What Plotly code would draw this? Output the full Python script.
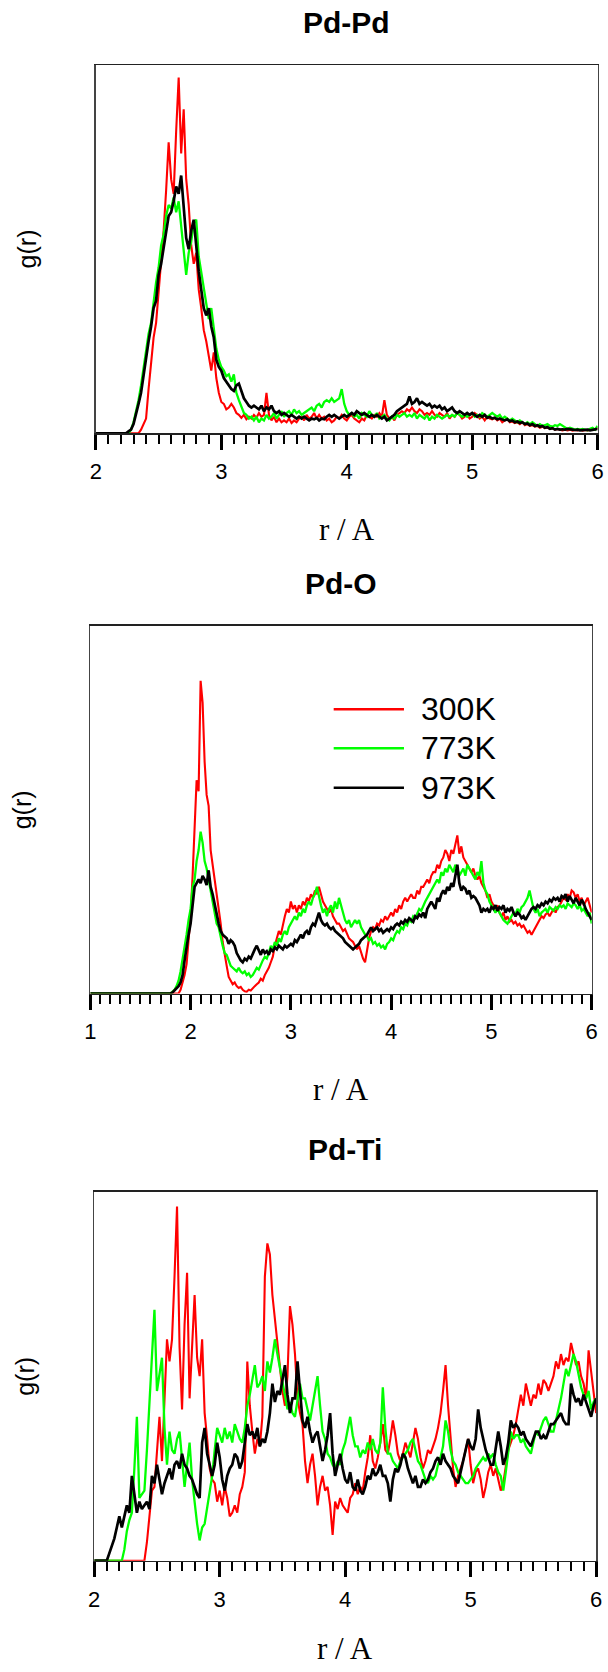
import numpy as np
import plotly.graph_objects as go

# ---------------- data (g(r), arbitrary units) ----------------
TEMPS = ["300K", "773K", "973K"]
PANEL_TITLES = ["Pd-Pd", "Pd-O", "Pd-Ti"]
R_RANGES = [(2.0, 6.0), (1.0, 6.0), (2.0, 6.0)]   # r / A, samples every 0.02 A
Y_MAX = 10.0

PDPD_300K = [
    0, 0, 0, 0, 0, 0, 0, 0, 0, 0,
    0, 0, 0, 0, 0, 0, 0, 0, 0.1, 0.25,
    0.4, 1.2, 1.9, 2.6, 3.0, 3.8, 4.8, 5.5, 6.6, 7.9,
    6.9, 6.5, 8.2, 9.66, 7.6, 8.8, 6.9, 6.2, 5.1, 4.6,
    4.9, 3.9, 3.4, 2.8, 2.5, 2.1, 1.7, 2.2, 1.5, 1.1,
    0.85, 0.8, 0.65, 0.7, 0.8, 0.7, 0.55, 0.5, 0.42, 0.5,
    0.38, 0.45, 0.4, 0.5, 0.42, 0.55, 0.45, 0.5, 1.1, 0.5,
    0.35, 0.45, 0.3, 0.4, 0.3, 0.35, 0.3, 0.4, 0.28, 0.35,
    0.3, 0.4, 0.45, 0.35, 0.5, 0.4, 0.45, 0.55, 0.4, 0.5,
    0.4, 0.45, 0.35, 0.4, 0.3, 0.35, 0.45, 0.4, 0.5, 0.4,
    0.35, 0.45, 0.5, 0.4, 0.35, 0.3, 0.4, 0.35, 0.5, 0.45,
    0.4, 0.5, 0.45, 0.55, 0.45, 0.9, 0.5, 0.4, 0.45, 0.35,
    0.5, 0.55, 0.6, 0.55, 0.65, 0.6, 0.7, 0.6, 0.55, 0.65,
    0.6, 0.5, 0.55, 0.5, 0.6, 0.5, 0.45, 0.55, 0.5, 0.45,
    0.55, 0.4, 0.5, 0.45, 0.55, 0.5, 0.4, 0.45, 0.5, 0.4,
    0.45, 0.55, 0.5, 0.4, 0.45, 0.35, 0.45, 0.4, 0.38, 0.42,
    0.35, 0.4, 0.3, 0.35, 0.4, 0.3, 0.32, 0.28, 0.3, 0.25,
    0.3, 0.22, 0.25, 0.2, 0.22, 0.18, 0.2, 0.15, 0.18, 0.14,
    0.16, 0.12, 0.14, 0.1, 0.12, 0.1, 0.08, 0.1, 0.08, 0.1,
    0.07, 0.09, 0.08, 0.1, 0.07, 0.09, 0.08, 0.1, 0.12, 0.1,
    0.14,
]
PDPD_773K = [
    0, 0, 0, 0, 0, 0, 0, 0, 0, 0,
    0, 0, 0, 0, 0.1, 0.3, 0.6, 0.9, 1.3, 1.8,
    2.3, 2.7, 3.0, 3.6, 4.1, 4.5, 5.1, 5.4, 5.9, 6.2,
    6.1, 6.4, 6.0, 6.3, 5.6, 5.0, 4.3, 4.9, 5.2, 5.7,
    5.8, 4.8, 4.4, 3.9, 3.5, 3.1, 3.4, 2.9, 2.3, 2.0,
    1.8, 1.7, 1.55, 1.6, 1.4, 1.6, 1.1, 0.9, 0.7, 0.55,
    0.5, 0.4, 0.45, 0.35, 0.45, 0.3, 0.4, 0.35, 0.5, 0.4,
    0.45, 0.55, 0.4, 0.5, 0.6, 0.45, 0.55, 0.6, 0.5, 0.65,
    0.55, 0.6, 0.5, 0.55, 0.6, 0.65, 0.7, 0.6, 0.75, 0.8,
    0.7, 0.85, 0.9, 0.85, 0.95, 0.85, 0.9, 0.95, 1.2, 0.8,
    0.6, 0.5, 0.55, 0.45, 0.5, 0.4, 0.55, 0.5, 0.45, 0.6,
    0.5, 0.45, 0.55, 0.4, 0.45, 0.5, 0.4, 0.35, 0.45, 0.4,
    0.5, 0.45, 0.5, 0.55, 0.45, 0.5, 0.45, 0.55, 0.4, 0.5,
    0.45, 0.4, 0.5, 0.35, 0.45, 0.4, 0.5, 0.45, 0.4, 0.45,
    0.5, 0.45, 0.5, 0.45, 0.55, 0.5, 0.45, 0.5, 0.45, 0.5,
    0.55, 0.45, 0.5, 0.45, 0.55, 0.5, 0.45, 0.5, 0.55, 0.5,
    0.45, 0.5, 0.4, 0.45, 0.4, 0.35, 0.4, 0.35, 0.3, 0.35,
    0.3, 0.25, 0.3, 0.25, 0.3, 0.25, 0.2, 0.25, 0.2, 0.22,
    0.25, 0.2, 0.18, 0.22, 0.2, 0.25, 0.2, 0.15, 0.12, 0.15,
    0.12, 0.1, 0.12, 0.1, 0.12, 0.1, 0.08, 0.12, 0.15, 0.1,
    0.2,
]
PDPD_973K = [
    0, 0, 0, 0, 0, 0, 0, 0, 0, 0,
    0, 0, 0, 0.05, 0.1, 0.25, 0.5, 0.8, 1.1, 1.6,
    2.1, 2.5, 2.9, 3.4, 3.6, 4.3, 4.6, 5.0, 5.5, 5.9,
    6.0, 6.3, 6.7, 6.5, 7.0, 6.2, 5.3, 5.0, 5.5, 5.8,
    5.0, 4.4, 3.9, 3.4, 3.2, 3.4, 2.9, 2.6, 2.0, 1.8,
    1.7, 1.5, 1.4, 1.3, 1.2, 1.15, 1.3, 1.35, 1.15, 0.95,
    0.85, 0.75, 0.7, 0.75, 0.7, 0.65, 0.75, 0.6, 0.7, 0.65,
    0.75, 0.6, 0.55, 0.6, 0.5, 0.55, 0.5, 0.45, 0.5, 0.45,
    0.4, 0.45, 0.4, 0.45, 0.4, 0.35, 0.4, 0.38, 0.42, 0.35,
    0.4, 0.38, 0.45, 0.5, 0.45, 0.5, 0.45, 0.4, 0.45, 0.5,
    0.45, 0.5, 0.55, 0.5, 0.6, 0.55, 0.5, 0.55, 0.5, 0.45,
    0.5, 0.45, 0.5, 0.45, 0.4, 0.45, 0.35, 0.4, 0.45, 0.5,
    0.6, 0.65, 0.7, 0.75, 0.8, 1.0, 0.8, 0.85, 0.95, 0.8,
    0.85, 0.8, 0.75, 0.8, 0.7, 0.75, 0.7, 0.75, 0.65, 0.7,
    0.6, 0.65, 0.7, 0.6, 0.55, 0.6, 0.55, 0.5, 0.55, 0.5,
    0.55, 0.5, 0.45, 0.5, 0.45, 0.5, 0.42, 0.45, 0.4, 0.42,
    0.38, 0.4, 0.38, 0.35, 0.38, 0.33, 0.35, 0.3, 0.32, 0.28,
    0.3, 0.25, 0.27, 0.22, 0.25, 0.2, 0.22, 0.18, 0.2, 0.15,
    0.17, 0.12, 0.14, 0.1, 0.12, 0.1, 0.11, 0.1, 0.12, 0.1,
    0.1, 0.09, 0.1, 0.08, 0.09, 0.08, 0.1, 0.08, 0.09, 0.1,
    0.12,
]

PDO_300K = [
    0, 0, 0, 0, 0, 0, 0, 0, 0, 0,
    0, 0, 0, 0, 0, 0, 0, 0, 0, 0,
    0, 0, 0, 0, 0, 0, 0, 0, 0, 0,
    0, 0, 0, 0, 0, 0, 0, 0, 0, 0,
    0, 0, 0, 0, 0, 0.1, 0.3, 0.5, 0.8, 1.4,
    2.1, 3.2, 4.4, 5.8, 5.5, 8.5, 7.9, 6.3, 5.4, 5.1,
    3.9, 3.5, 3.2, 2.8, 2.4, 1.9, 1.4, 1.0, 0.75, 0.45,
    0.35, 0.25, 0.3, 0.2, 0.15, 0.18, 0.1, 0.06, 0.05, 0.1,
    0.08, 0.15, 0.2, 0.25, 0.3, 0.4, 0.35, 0.5, 0.6, 0.7,
    0.85, 1.0, 1.3, 1.5, 1.7, 1.6, 1.9, 2.1, 2.3, 2.2,
    2.5, 2.3, 2.4, 2.2, 2.4, 2.3, 2.5, 2.4, 2.6, 2.5,
    2.7, 2.6, 2.8, 2.7, 2.9, 2.7, 2.5, 2.4, 2.3, 2.2,
    2.3, 2.1, 2.0, 1.9, 1.9, 1.8, 1.7, 1.75, 1.6, 1.5,
    1.45, 1.4, 1.3, 1.2, 1.3, 1.1, 0.95, 0.85, 1.2, 1.5,
    1.7, 1.8, 1.75, 1.9, 1.85, 2.0, 1.95, 2.1, 2.0, 2.1,
    2.2, 2.1, 2.3, 2.2, 2.4, 2.3, 2.5, 2.6, 2.5, 2.6,
    2.7, 2.6, 2.6, 2.8, 2.7, 2.9, 2.9, 3.0, 3.1, 3.0,
    3.2, 3.3, 3.3, 3.5, 3.4, 3.6, 3.7, 3.9, 3.8, 3.6,
    3.9, 3.8, 4.1, 4.3, 3.8, 4.0, 3.7, 3.6, 3.5, 3.4,
    3.3, 3.4, 3.2, 3.1, 3.2, 3.0, 2.9, 2.8, 2.6, 2.7,
    2.5, 2.4, 2.3, 2.4, 2.2, 2.1, 2.2, 2.0, 2.1, 1.95,
    2.0, 1.9, 1.95, 1.85, 1.9, 1.8, 1.85, 1.75, 1.65, 1.7,
    1.6, 1.7, 1.8, 1.9, 2.0, 2.1, 2.05, 2.15, 2.2, 2.1,
    2.2, 2.3, 2.2, 2.35, 2.4, 2.5, 2.6, 2.55, 2.7, 2.6,
    2.8, 2.75, 2.6, 2.7, 2.5, 2.6, 2.4, 2.5, 2.6, 2.4,
    2.2,
]
PDO_773K = [
    0, 0, 0, 0, 0, 0, 0, 0, 0, 0,
    0, 0, 0, 0, 0, 0, 0, 0, 0, 0,
    0, 0, 0, 0, 0, 0, 0, 0, 0, 0,
    0, 0, 0, 0, 0, 0, 0, 0, 0, 0,
    0, 0.05, 0.1, 0.2, 0.35, 0.6, 0.9, 1.3, 1.6, 2.0,
    2.3, 2.9, 3.1, 3.6, 3.9, 4.4, 4.1, 3.6, 3.4, 3.1,
    2.8, 2.5, 2.2, 1.9, 1.8, 1.5, 1.3, 1.1, 1.05, 0.9,
    0.75, 0.7, 0.65, 0.6, 0.7, 0.6, 0.55, 0.6, 0.5, 0.55,
    0.45, 0.5, 0.6, 0.7, 0.65, 0.8, 0.9, 1.0, 0.95, 1.1,
    1.3, 1.2, 1.4, 1.3, 1.5, 1.4, 1.6, 1.7, 1.6, 1.8,
    1.9, 2.0, 2.1, 2.0, 2.2, 2.1, 2.3, 2.2, 2.4, 2.5,
    2.4, 2.6, 2.7, 2.9, 2.6, 2.4, 2.2, 2.3, 2.1, 2.3,
    2.4, 2.2, 2.5, 2.3, 2.6, 2.4, 2.2, 2.0, 1.9, 2.0,
    1.8, 1.9, 2.0, 1.9, 2.0, 1.8, 1.7, 1.6, 1.55, 1.45,
    1.5, 1.35, 1.4, 1.3, 1.35, 1.25, 1.3, 1.2, 1.35, 1.4,
    1.5, 1.45, 1.6, 1.7, 1.65, 1.8, 1.75, 1.9, 1.85, 2.0,
    1.95, 2.1, 2.05, 2.2, 2.3, 2.25, 2.4, 2.5, 2.6, 2.7,
    2.8, 2.9, 3.0, 3.1, 3.0, 3.3, 3.2, 3.4, 3.3, 3.5,
    3.4, 3.3, 3.5, 3.4, 3.2, 3.3, 3.4, 3.2, 3.5, 3.4,
    3.3, 3.2, 3.1, 3.3, 3.2, 3.6, 3.0, 2.8, 2.7, 2.5,
    2.4, 2.3, 2.2, 2.3, 2.2, 2.1, 2.0, 1.95, 1.9, 2.0,
    2.1, 2.2, 2.15, 2.3, 2.2, 2.35, 2.4, 2.5, 2.6, 2.8,
    2.5, 2.3, 2.2, 2.3, 2.1, 2.2, 2.25, 2.3, 2.2, 2.35,
    2.3, 2.25, 2.35, 2.3, 2.4, 2.35, 2.4, 2.3, 2.45, 2.4,
    2.35, 2.45, 2.4, 2.3, 2.4, 2.25, 2.3, 2.2, 2.1, 2.2,
    1.9,
]
PDO_973K = [
    0, 0, 0, 0, 0, 0, 0, 0, 0, 0,
    0, 0, 0, 0, 0, 0, 0, 0, 0, 0,
    0, 0, 0, 0, 0, 0, 0, 0, 0, 0,
    0, 0, 0, 0, 0, 0, 0, 0, 0, 0,
    0, 0.03, 0.08, 0.15, 0.2, 0.3, 0.5, 0.9, 1.3, 1.6,
    1.9, 2.4, 2.9, 3.0, 3.1, 3.0, 3.2, 3.1, 2.95, 3.35,
    2.9, 2.7, 2.4, 2.2, 1.9, 1.7, 1.6, 1.55, 1.5, 1.35,
    1.45, 1.4, 1.3, 1.1, 1.0, 0.9, 0.85, 0.95, 0.9, 1.0,
    0.95, 1.1, 1.2, 1.3, 1.15, 1.05, 1.2, 1.1, 1.15, 1.05,
    1.2, 1.15, 1.25, 1.2, 1.3, 1.25, 1.2, 1.3, 1.25, 1.3,
    1.35, 1.3, 1.45, 1.4, 1.5, 1.6, 1.5, 1.65, 1.7, 1.6,
    1.8, 1.9, 1.85, 2.0, 2.2, 2.0, 1.9, 1.85, 1.9, 1.8,
    1.75, 1.8, 1.7, 1.65, 1.6, 1.55, 1.5, 1.4, 1.35, 1.3,
    1.25, 1.2, 1.25, 1.3, 1.35, 1.45, 1.5, 1.55, 1.6, 1.7,
    1.8, 1.7, 1.75, 1.8, 1.7, 1.75, 1.65, 1.7, 1.75, 1.7,
    1.8, 1.75, 1.85, 1.9, 1.85, 1.95, 1.9, 2.0, 1.95, 2.05,
    2.0, 1.95, 2.1, 2.05, 2.15, 2.1, 2.2, 2.05, 2.3, 2.4,
    2.5, 2.4, 2.3, 2.6, 2.5, 2.7, 2.8, 2.7, 2.9, 2.8,
    3.0, 2.9, 3.2, 3.5, 3.0, 2.8, 2.9, 2.85, 2.7, 2.8,
    2.6, 2.65, 2.6, 2.5, 2.4, 2.2, 2.3, 2.25, 2.3, 2.2,
    2.35, 2.3, 2.4, 2.25, 2.35, 2.3, 2.4, 2.2, 2.3, 2.25,
    2.35, 2.2, 2.1, 2.2, 2.15, 2.05, 2.1, 2.0, 2.1, 2.2,
    2.3, 2.35, 2.3, 2.4, 2.35, 2.45, 2.4, 2.5, 2.45, 2.55,
    2.5, 2.6, 2.55, 2.6, 2.5, 2.65, 2.6, 2.7, 2.5, 2.65,
    2.55, 2.45, 2.6, 2.5, 2.4, 2.55, 2.45, 2.3, 2.2, 2.1,
    2.0,
]

PDTI_300K = [
    0, 0, 0, 0, 0, 0, 0, 0, 0, 0,
    0, 0, 0, 0, 0, 0, 0, 0, 0, 0,
    0, 0.5, 1.3, 1.9, 2.0, 3.0, 3.9, 2.7, 4.2, 6.0,
    5.4, 6.0, 7.7, 9.6, 5.8, 4.1, 6.4, 7.8, 4.4, 5.9,
    7.2, 5.5, 5.0, 6.0, 4.0, 3.3, 2.5, 2.2, 2.1, 1.6,
    1.9, 1.5, 2.0, 1.7, 1.2, 1.3, 1.5, 1.3, 1.8, 2.0,
    2.4, 5.4, 4.2, 3.5, 2.9, 3.3, 3.1, 3.9, 7.7, 8.6,
    8.3, 7.2, 6.5, 5.8, 5.2, 4.6, 4.2, 5.0, 6.9, 6.4,
    5.6, 4.4, 4.0, 3.7, 2.7, 2.1, 2.6, 2.9, 2.3, 1.5,
    2.0, 2.3, 1.9, 2.0, 1.5, 0.7, 1.6, 1.4, 1.7, 1.5,
    1.4, 1.3, 1.7, 1.8, 2.1, 1.8, 2.0, 1.9, 2.4, 2.8,
    3.4, 2.7, 2.5, 2.8, 3.2, 3.7, 3.0, 2.9, 3.3, 3.8,
    3.4, 2.9, 2.7, 2.9, 3.2, 3.0, 2.8, 3.2, 3.6, 3.3,
    2.8, 2.5, 2.7, 3.0, 2.9, 3.1, 3.3, 3.6, 4.0, 4.6,
    5.3, 4.2, 3.3, 2.5, 2.0, 2.3, 2.5, 2.7, 3.0, 3.3,
    2.6, 2.1, 2.4, 2.5, 2.2, 1.7, 2.0, 2.4, 2.6, 2.3,
    2.5, 2.2, 1.9, 2.1, 2.6, 3.0, 3.2, 3.4, 3.7, 4.1,
    4.5, 4.2, 4.8, 4.5, 4.2, 4.5, 4.4, 4.8, 4.5, 4.9,
    4.8, 4.6, 4.8, 5.0, 5.4, 5.2, 5.6, 5.3, 5.5, 5.4,
    5.9, 5.6, 5.3, 5.4, 5.0, 4.8, 4.4, 5.7, 5.1, 4.5,
    4.0,
]
PDTI_773K = [
    0, 0, 0, 0, 0, 0, 0, 0, 0, 0,
    0, 0, 0.3, 0.8, 1.1, 1.3, 2.5, 3.9, 1.7, 1.8,
    1.9, 3.0, 4.2, 5.4, 6.8, 4.6, 5.0, 5.5, 3.6, 2.6,
    3.5, 3.0, 2.9, 3.3, 3.5, 2.7, 2.0, 2.6, 3.2, 2.2,
    1.5, 1.0, 0.55, 0.9, 1.0, 1.4, 1.8, 2.3, 3.0, 3.6,
    3.4, 3.2, 3.6, 3.3, 3.5, 3.2, 3.7, 3.5, 3.3, 3.2,
    3.6, 4.2, 4.5, 4.9, 5.3, 4.7, 4.8, 5.0, 4.6, 5.4,
    5.1, 5.5, 6.0, 5.6, 5.2, 4.8, 4.5, 4.1, 4.3, 4.0,
    3.9, 4.4, 4.8, 4.4, 4.4, 4.1, 3.8, 4.2, 4.6, 5.0,
    4.2, 3.5, 3.3, 2.9, 2.8, 2.6, 2.5, 2.7, 2.6, 3.0,
    3.2, 3.6, 3.9, 3.4, 3.1, 3.1, 2.8, 3.0, 2.9, 3.2,
    3.0, 3.3, 3.0, 2.9, 3.2, 4.7, 3.6, 2.9, 2.9, 2.7,
    2.6, 2.5, 2.7, 2.8, 2.9, 3.0, 3.2, 3.3, 3.0, 2.7,
    2.6, 2.4, 2.2, 2.1, 2.3, 2.2, 2.3, 2.6, 2.8, 3.1,
    3.8, 3.5, 3.0, 2.7, 2.6, 2.4, 2.3, 2.2, 2.1, 2.1,
    2.2, 2.3, 2.5, 2.6, 2.7, 2.8, 2.7, 2.9, 2.8, 2.9,
    2.6, 2.4, 2.3, 1.9, 2.4, 2.9, 3.5, 3.3, 3.4, 3.4,
    3.2, 3.3, 3.1, 3.0, 2.9, 3.2, 3.5, 3.4, 3.6, 3.8,
    3.9, 3.7, 3.5, 3.5, 3.8, 4.1, 4.4, 4.8, 5.2, 5.0,
    5.3, 5.6, 5.4, 5.0, 4.7, 4.5, 4.4, 4.6, 4.1, 4.3,
    4.4,
]
PDTI_973K = [
    0, 0, 0, 0, 0, 0, 0.2, 0.4, 0.6, 0.9,
    1.2, 0.9, 1.2, 1.5, 1.3, 2.3, 1.8, 1.3, 1.6, 1.4,
    1.5, 1.6, 1.4, 2.3, 2.1, 2.6, 2.2, 1.8, 2.1, 2.3,
    2.5, 2.2, 2.6, 2.7, 2.5, 2.9, 2.6, 2.5, 2.3, 2.2,
    2.0, 1.8, 1.7, 3.2, 3.6, 2.9, 2.6, 2.3, 2.6, 3.2,
    2.8, 2.2, 1.9, 2.3, 2.5, 2.6, 2.9, 2.8, 2.5, 2.7,
    3.2, 3.7, 3.4, 3.5, 3.3, 3.6, 3.1, 3.3, 3.2, 3.5,
    4.0, 4.8, 4.3, 4.6, 4.5, 4.9, 5.3, 4.5, 4.0, 4.4,
    4.4, 5.4, 4.5, 3.8, 3.6, 3.9, 3.5, 3.2, 3.4, 3.5,
    3.1, 2.7, 3.0, 3.4, 4.0, 2.9, 2.3, 2.6, 2.9, 2.5,
    2.2, 2.1, 2.4, 2.0, 1.9, 2.2, 1.9, 1.8, 2.0, 2.3,
    2.2, 2.5, 2.3, 2.4, 2.6, 2.3, 2.3, 2.1, 1.6, 2.2,
    2.5, 2.4, 2.6, 2.9, 2.8, 2.5, 2.3, 2.1, 2.3, 2.0,
    2.0, 2.2, 2.1, 2.2, 2.4, 2.5, 2.7, 2.8, 2.6, 2.9,
    2.7, 2.6, 2.5, 2.3, 2.2, 2.1, 2.4, 2.7, 3.0, 3.3,
    3.1, 3.0, 3.3, 4.1, 3.6, 3.3, 3.0, 2.8, 2.6, 2.6,
    3.0, 3.5, 3.1, 2.6, 2.8, 3.2, 3.8, 3.6, 3.7, 3.6,
    3.4, 3.5, 3.3, 3.2, 3.1, 3.3, 3.5, 3.5, 3.3, 3.4,
    3.3, 3.5, 3.7, 3.7, 3.8, 3.9, 4.0, 3.8, 3.7, 3.7,
    4.8, 4.5, 4.3, 4.4, 4.2, 4.5, 4.3, 4.1, 3.9, 4.2,
    4.4,
]

PANEL_SERIES = [
    (PDPD_300K, PDPD_773K, PDPD_973K),
    (PDO_300K, PDO_773K, PDO_973K),
    (PDTI_300K, PDTI_773K, PDTI_973K),
]

# ---------------- styling / layout ----------------
W, H = 608, 1672
COLORS = ["#ff0000", "#00ff00", "#000000"]
WIDTHS = [2.1, 2.3, 2.7]
# plot-area pixel boxes: left, right, top, bottom
PANEL_PX = [(91.7, 603.5, 65.0, 433.3), (86.0, 597.5, 625.7, 993.5), (90.0, 602.0, 1191.7, 1560.7)]
XTITLE_GAP = [96, 96, 88]

SANS = "Liberation Sans, Arial, Helvetica, sans-serif"
SERIF = "Liberation Serif, Times New Roman, serif"

fig = go.Figure()
for p, series in enumerate(PANEL_SERIES):
    r0, r1 = R_RANGES[p]
    xa = "x" if p == 0 else f"x{p+1}"
    ya = "y" if p == 0 else f"y{p+1}"
    for k, vals in enumerate(series):
        r = np.round(np.linspace(r0, r1, len(vals)), 3)
        fig.add_trace(go.Scatter(
            x=r, y=vals, mode="lines", name=TEMPS[k], showlegend=False,
            line=dict(color=COLORS[k], width=WIDTHS[k]),
            xaxis=xa, yaxis=ya, hoverinfo="skip",
        ))

layout = dict(
    width=W, height=H, margin=dict(l=0, r=0, t=0, b=0),
    paper_bgcolor="white", plot_bgcolor="white", showlegend=False,
)
annotations = []
shapes = []
for p in range(3):
    L, R, T, B = PANEL_PX[p]
    r0, r1 = R_RANGES[p]
    sx = "" if p == 0 else str(p + 1)
    layout["xaxis" + sx] = dict(
        domain=[L / W, R / W], range=[r0, r1], anchor="y" + sx,
        showline=True, mirror=True, linecolor="#222", linewidth=1.5,
        ticks="outside", tick0=0, dtick=1, ticklen=15, tickwidth=3, tickcolor="black",
        minor=dict(tick0=0, dtick=0.1, ticks="outside", ticklen=9, tickwidth=2, tickcolor="black", showgrid=False),
        showgrid=False, zeroline=False, ticklabeloverflow="allow",
        tickfont=dict(family=SANS, size=22, color="black"), ticklabelstandoff=3,
    )
    layout["yaxis" + sx] = dict(
        domain=[(H - B) / H, (H - T) / H], range=[0, Y_MAX], anchor="x" + sx,
        showline=True, mirror=True, linecolor="#444", linewidth=1.5,
        ticks="", showticklabels=False, showgrid=False, zeroline=False,
    )
    cx = (L + R) / 2 / W
    annotations.append(dict(text="<b>%s</b>" % PANEL_TITLES[p], xref="paper", yref="paper",
                            x=cx, y=1 - (T - 42) / H, xanchor="center", yanchor="middle",
                            showarrow=False, font=dict(family=SANS, size=30, color="black")))
    annotations.append(dict(text="r / A", xref="paper", yref="paper",
                            x=cx, y=1 - (B + XTITLE_GAP[p]) / H, xanchor="center", yanchor="middle",
                            showarrow=False, font=dict(family=SERIF, size=31, color="black")))
    annotations.append(dict(text="g(r)", xref="paper", yref="paper", textangle=-90,
                            x=(L - 70) / W, y=1 - (T + B) / 2 / H, xanchor="center", yanchor="middle",
                            showarrow=False, font=dict(family=SANS, size=25, color="black")))

# legend drawn inside the Pd-O panel
LEG_Y = [0.7727, 0.6667, 0.5595]
for k in range(3):
    shapes.append(dict(type="line", xref="x2 domain", yref="y2 domain",
                       x0=0.4854, x1=0.6256, y0=LEG_Y[k], y1=LEG_Y[k],
                       line=dict(color=COLORS[k], width=2.5)))
    annotations.append(dict(text=TEMPS[k], xref="x2 domain", yref="y2 domain",
                            x=0.6560, y=LEG_Y[k], xanchor="left", yanchor="middle",
                            showarrow=False, font=dict(family=SANS, size=32, color="black")))

layout["annotations"] = annotations
layout["shapes"] = shapes
fig.update_layout(**layout)
fig.write_html("out.html", config={"displayModeBar": False, "staticPlot": True},
               post_script="document.body.style.margin='0';document.body.style.overflow='hidden';")
